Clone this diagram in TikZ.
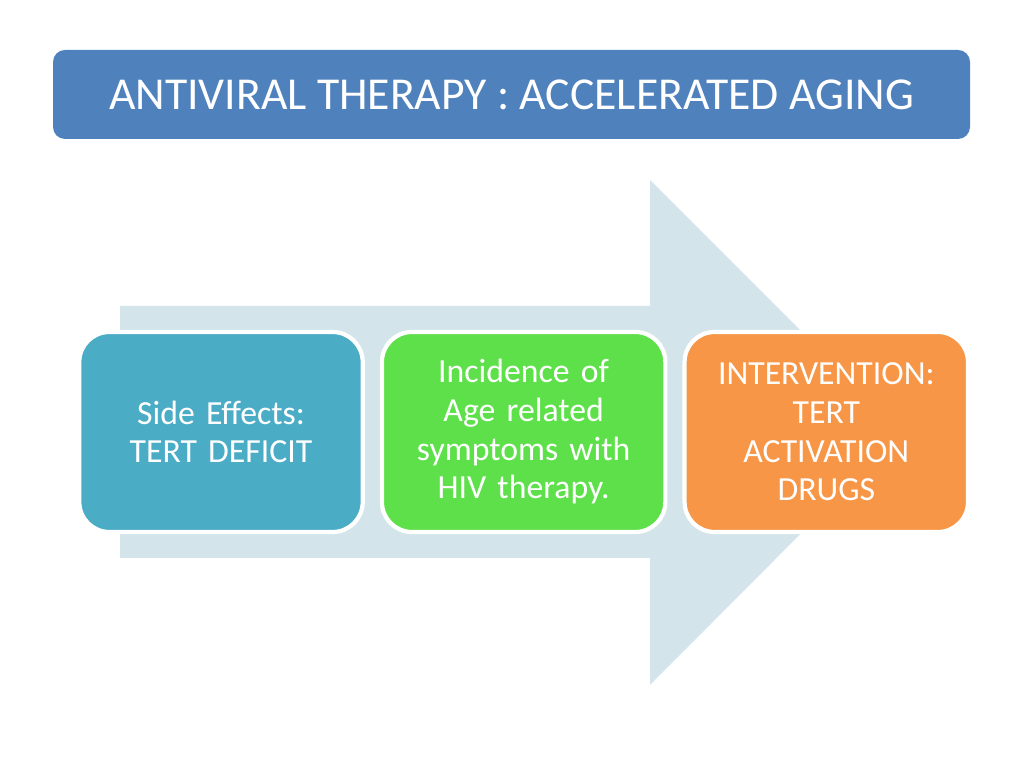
\documentclass[tikz,border=0pt]{standalone}
\usepackage{fontspec}
\setmainfont{Carlito}
\usetikzlibrary{positioning}
\definecolor{titleblue}{HTML}{4F81BD}
\definecolor{arrowgray}{HTML}{D3E4EA}
\definecolor{stepblue}{HTML}{4BACC6}
\definecolor{stepgreen}{HTML}{5EE04B}
\definecolor{steporange}{HTML}{F79646}
\tikzset{stepbox/.style={draw=white, line width=1.2pt, rounded corners=0.3cm,
  minimum width=2.74cm, minimum height=2cm, text width=2.6cm, align=center,
  text=white, font=\fontsize{9.6}{11}\selectfont}}
\begin{document}
\begin{tikzpicture}
\useasboundingbox (0,0) rectangle (10.24,7.68);
% title bar
\node[fill=titleblue, rounded corners=0.12cm, minimum width=9.17cm,
  minimum height=0.89cm, text=white, font=\fontsize{13}{15}\selectfont]
  (title) at (5.115,6.735) {ANTIVIRAL THERAPY : ACCELERATED AGING};
% background arrow
\fill[arrowgray] (1.2,4.62) -- (6.5,4.62) -- (6.5,5.88) -- (9.02,3.36)
  -- (6.5,0.83) -- (6.5,2.10) -- (1.2,2.10) -- cycle;
% steps
\node[stepbox, fill=stepblue] (side) at (2.21,3.36) {Side Effects:\\TERT DEFICIT};
\node[stepbox, fill=stepgreen, right=0.15cm of side] (incid)
  {Incidence of\\Age related\\symptoms with\\HIV therapy.};
\node[stepbox, fill=steporange, right=0.15cm of incid] (interv)
  {INTERVENTION:\\TERT\\ACTIVATION\\DRUGS};
\end{tikzpicture}
\end{document}
